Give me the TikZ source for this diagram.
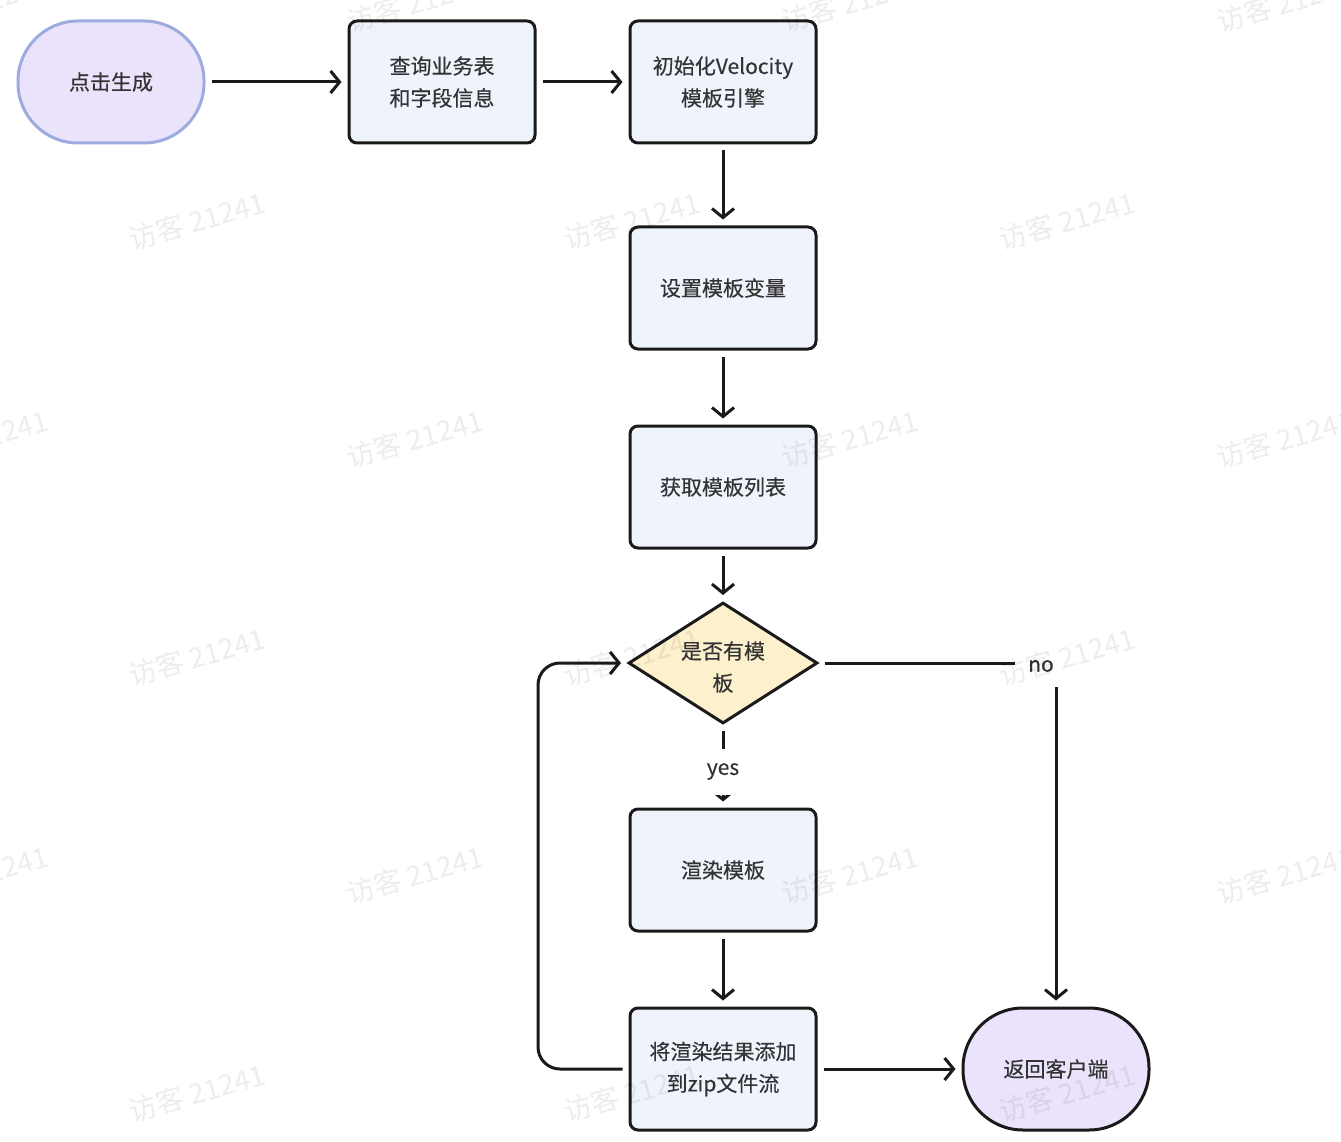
\documentclass[tikz,border=0pt]{standalone}
\usepackage{fontspec}
\setmainfont{Noto Sans CJK SC}
\newfontfamily\medfont[FakeBold=0.35]{Noto Sans CJK SC}
\usetikzlibrary{arrows.meta,shapes.geometric}
\definecolor{boxfill}{HTML}{EFF4FC}
\definecolor{decfill}{HTML}{FDF0CC}
\definecolor{termfill}{HTML}{EAE3FB}
\definecolor{startborder}{HTML}{9DABDF}
\definecolor{edge}{HTML}{1A1A1A}
\definecolor{txt}{HTML}{333333}
\begin{document}
\begin{tikzpicture}[x=1pt,y=-1pt,
  base/.style={font=\medfont\fontsize{21}{32}\selectfont, text=txt, align=center, inner sep=0pt},
  procbox/.style={base, draw=edge, line width=3pt, fill=boxfill, rounded corners=8pt,
    minimum width=186pt, minimum height=122pt},
  term/.style={base, draw=edge, line width=3pt, fill=termfill, rounded corners=60pt,
    minimum width=186pt, minimum height=122pt},
  decision/.style={base, draw=edge, line width=3pt, fill=decfill, diamond,
    minimum width=189pt, minimum height=121pt},
  flow/.style={draw=edge, line width=3pt, shorten <=6pt, shorten >=6pt,
    -{Straight Barb[length=9pt,width=22pt,line width=3pt]}},
  lbl/.style={base, fill=white, minimum width=50pt, minimum height=46pt},
  wm/.style={font=\fontsize{28}{30}\selectfont, text=black, opacity=0.07, rotate=16, inner sep=0pt}
]
\useasboundingbox (0,0) rectangle (1341,1142);
\fill[white] (0,0) rectangle (1341,1142);

% nodes
\node[term, draw=startborder] (start) at (111,82) {\raisebox{-2pt}{点击生成}};
\node[procbox] (query) at (442,82) {查询业务表\\和字段信息};
\node[procbox] (init) at (723,82) {初始化Velocity\\模板引擎};
\node[procbox] (setv) at (723,288) {\raisebox{-2pt}{设置模板变量}};
\node[procbox] (getl) at (723,487) {\raisebox{-2pt}{获取模板列表}};
\node[decision] (dec) at (723,663) {};
\node[base] (dectext) at (723,667) {是否有模\\板};
\node[procbox] (render) at (723,870) {\raisebox{-2pt}{渲染模板}};
\node[procbox] (zipn) at (723,1069) {将渲染结果添加\\到zip文件流};
\node[term] (ret) at (1056,1069) {\raisebox{-2pt}{返回客户端}};

\coordinate (loopx) at (538,0);

% connectors
\draw[flow] (start) -- (query);
\draw[flow] (query) -- (init);
\draw[flow] (init) -- (setv);
\draw[flow] (setv) -- (getl);
\draw[flow] (getl) -- (dec);
\draw[flow] (dec.south) -- (render.north);
\node[lbl] (yes) at (723,771.5) {\raisebox{-5pt}{yes}};
\draw[flow] (render) -- (zipn);
\draw[flow] (zipn) -- (ret);
\draw[flow, rounded corners=22pt] (zipn.west) -- (zipn.west -| loopx) -- (dec.west -| loopx) -- (dec.west);
\draw[flow] (dec.east) -- (dec.east -| ret.north) -- (ret.north);
\node[lbl, minimum width=52pt, minimum height=42pt] (no) at (1041,666) {\raisebox{-3pt}{no}};

% watermarks
\foreach \y in {3,439,875} {
  \foreach \x in {-20,415,850,1285} {
    \node[wm] at (\x,\y) {访客 21241};
  }
}
\foreach \y in {221,657,1093} {
  \foreach \x in {197,632,1067} {
    \node[wm] at (\x,\y) {访客 21241};
  }
}
\end{tikzpicture}
\end{document}
